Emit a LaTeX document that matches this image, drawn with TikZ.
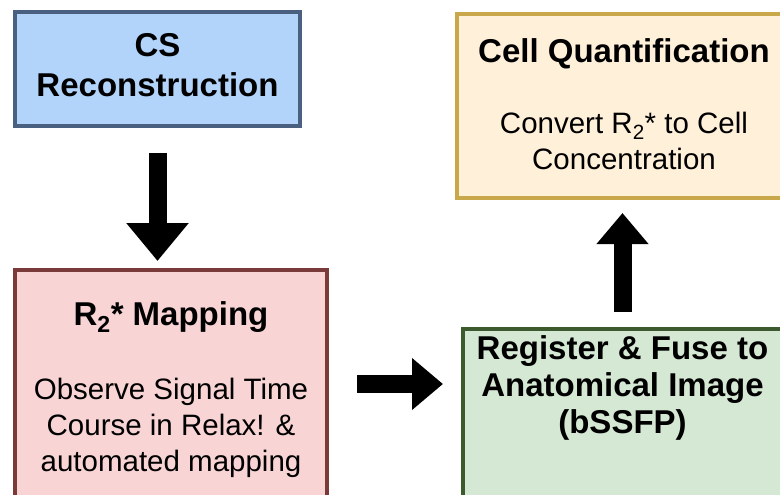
\documentclass[tikz,border=0pt]{standalone}
\usepackage{fontspec}
\setmainfont{Liberation Sans}
\usepackage{xcolor}
\usepackage{tikz}
\usetikzlibrary{arrows.meta,calc,positioning}
\definecolor{csfill}{RGB}{178,212,250}
\definecolor{csline}{RGB}{74,96,128}
\definecolor{quantfill}{RGB}{255,240,217}
\definecolor{quantline}{RGB}{201,168,76}
\definecolor{mapfill}{RGB}{248,212,212}
\definecolor{mapline}{RGB}{122,58,58}
\definecolor{regfill}{RGB}{213,232,212}
\definecolor{regline}{RGB}{61,90,46}
\tikzset{box/.style={draw, rectangle, line width=4pt, inner sep=0pt},
  titletext/.style={font=\fontsize{33}{37}\selectfont\bfseries, align=center, inner sep=0pt, anchor=north},
  bodytext/.style={font=\fontsize{29.5}{36}\selectfont, align=center, inner sep=0pt, anchor=north},
  bigarrow/.style={draw, line width=18pt, -{Triangle[length=31pt,width=50pt]}}}

\begin{document}
\begin{tikzpicture}[x=1pt,y=-1pt]
   		\useasboundingbox (0,0) rectangle (780,495); % page size of the reference
   		\clip (0,0) rectangle (780,495);
   		\node (cs)[box, fill=csfill, draw=csline, minimum width=285pt, minimum height=114pt] at (157.5,69) {}; % top left box
   		\node (quant)[box, fill=quantfill, draw=quantline, minimum width=333pt, minimum height=184pt] at (623.5,106) {}; % top right box
   		\node (map)[box, fill=mapfill, draw=mapline, minimum width=312pt, minimum height=228pt] at (171,384) {}; % bottom left box
   		\node (reg)[box, fill=regfill, draw=regline, minimum width=319pt, minimum height=200pt] at (622.5,429) {}; % bottom right box
   		\node (cstext)[titletext, font=\fontsize{33}{40}\selectfont\bfseries] at (157.5,33) {CS\\Reconstruction};
   		\node (quanttitle)[titletext] at (624,38) {Cell Quantification};
   		\node (quanttext)[bodytext] at (624,112) {Convert R\textsubscript{2}* to Cell\\Concentration};
   		\node (maptitle)[titletext] at (171,301) {R\textsubscript{2}* Mapping};
   		\node (maptext)[bodytext] at (171,377.5) {Observe Signal Time\\Course in Relax! \&\\automated mapping};
   		\node (regtext)[titletext] at (622.5,335) {Register \& Fuse to\\Anatomical Image\\(bSSFP)};
   		\draw[bigarrow, -{Triangle[length=38pt,width=60pt]}, shorten <=25pt, shorten >=7pt] (cs.south) -- (cs.south |- map.north); % down
   		\draw[bigarrow, shorten <=28pt, shorten >=18pt] (map.east) -- (map.east -| reg.west); % right
   		\draw[bigarrow, shorten <=15pt, shorten >=13pt] (reg.north) -- (reg.north |- quant.south); % up
\end{tikzpicture}
\end{document}
